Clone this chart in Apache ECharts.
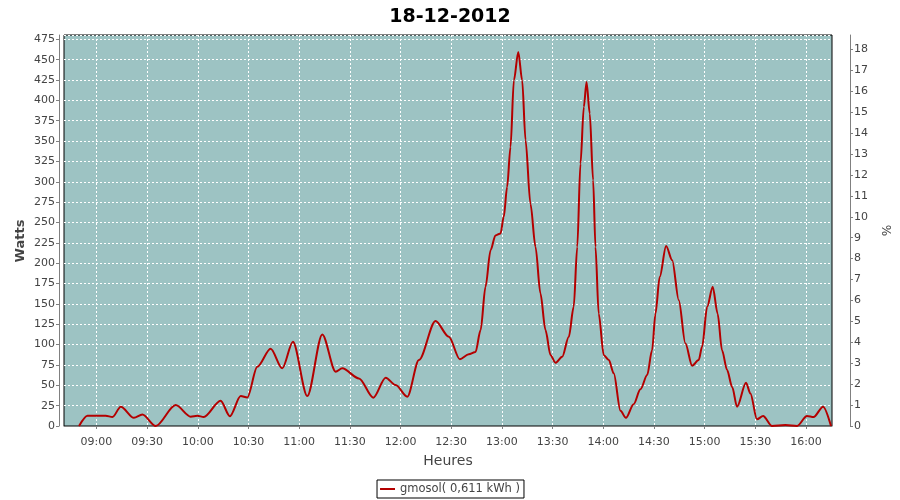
<!DOCTYPE html>
<html>
<head>
<meta charset="utf-8">
<script src="https://cdn.jsdelivr.net/npm/echarts@6/dist/echarts.min.js"></script>
<style>html,body{margin:0;padding:0;background:#fff;}#c{width:900px;height:500px;}</style>
</head>
<body>
<div id="c"></div>
<script>
// time of day in minutes since midnight
const minutes = [529.7,534.7,545.5,549.5,554.4,562.2,567.2,575.1,586.9,595.8,599.8,603.5,613.5,619,625.4,629.3,635.2,643.1,650,656.3,664.8,673.7,681.6,685.5,695.4,703.9,711.2,717.1,724,730.9,740.7,748.6,755.1,760.4,764.4,767.4,770.3,773.3,776.2,779.2,781.1,783.1,785.1,787.1,789.7,792,794,796.9,799.9,802.8,805.8,808.8,811.7,815.7,819.6,822.5,824.6,826.5,828.5,830.1,832,834,835.4,837.3,840.3,843.3,846.2,850.2,853.4,858,862,866,868.9,870.9,873.4,877.2,880.8,884.7,888.6,892.6,896.5,898.5,901.5,904.8,907.7,910.3,913.3,916.3,919.2,924.5,927.1,931,934.6,939.9,947.8,954.7,960.6,964.5,970.1,974.8];
const watts = [0,12.6,12.6,11,23.7,10,14,0,25.8,11.5,12.6,11,31,12,36.8,35,72.8,95,70.8,103.5,36.8,112.5,66.7,70.8,58.5,34.8,59.3,50.3,36,81,129,109.6,82,88,91,117.8,171,216,234,236.5,257,293.7,342.8,424.6,459.4,424.6,351,273,220,163,117.8,87,77.7,85,109.6,146.4,220,322,392,422.6,383.8,302,220,138,87,81,64.7,18.6,10,26.8,45,62.6,93,138,183,221,203.7,154.6,101.5,74,81,97.3,146.4,171,138,93,68.7,48,23.7,53,40,8.2,12.3,0,1.2,0,12.3,11,23.7,0];
const tickMinutes = [540,570,600,630,660,690,720,750,780,810,840,870,900,930,960];
const seriesName = 'gmosol( 0,611 kWh )';
const titleText = '18-12-2012';

const xMin = 520.8, xMax = 975.4;
const wattsMax = 480.3;
const pctMax = 18.69;

function fmt(m){
  const h = Math.floor(m/60), mm = Math.round(m - h*60);
  return (h<10?'0':'')+h+':'+(mm<10?'0':'')+mm;
}
const data = minutes.map((m,i)=>[m, watts[i]]);
const labelColor = '#444444';
const axisLineColor = '#808080';
const font = 'DejaVu Sans';

const chart = echarts.init(document.getElementById('c'), null, {renderer:'canvas'});
chart.setOption({
  animation:false,
  title:{text:titleText,left:'center',top:3,textStyle:{fontFamily:font,fontSize:19,fontWeight:'bold',color:'#000'}},
  grid:{left:64,right:68,top:35,bottom:74,show:true,backgroundColor:'#9dc3c3',borderColor:'#000',borderWidth:1},
  legend:{bottom:2,left:'center',borderColor:'#000',borderWidth:1,padding:[3,4,3,3],
    itemWidth:15,itemHeight:2,icon:'rect',
    textStyle:{fontFamily:font,fontSize:11.5,color:labelColor},data:[seriesName]},
  graphic:[{type:'text',x:21,y:241,rotation:Math.PI/2,
    style:{text:'Watts',fontFamily:font,fontSize:13,fontWeight:'bold',fill:labelColor,align:'center',verticalAlign:'middle'}}],
  xAxis:{type:'value',min:xMin,max:xMax,offset:4,
    name:'Heures',nameLocation:'middle',nameGap:24,nameTextStyle:{fontFamily:font,fontSize:14,color:labelColor},
    axisLine:{show:true,lineStyle:{color:axisLineColor}},
    axisTick:{show:true,length:3,customValues:tickMinutes,lineStyle:{color:axisLineColor}},
    axisLabel:{customValues:tickMinutes,formatter:v=>fmt(v),fontFamily:font,fontSize:11,color:labelColor,margin:7},
    splitLine:{show:true,lineStyle:{color:'#fff',type:[2,2],width:1}}
  },
  yAxis:[
    {type:'value',min:0,max:wattsMax,interval:25,offset:5,
     axisLine:{show:true,lineStyle:{color:axisLineColor}},
     axisTick:{show:true,length:3,lineStyle:{color:axisLineColor}},
     axisLabel:{fontFamily:font,fontSize:11,color:labelColor,margin:4,showMaxLabel:false},
     splitLine:{show:true,lineStyle:{color:'#fff',type:[2,2],width:1}}},
    {type:'value',min:0,max:pctMax,interval:1,offset:18,position:'right',
     name:'%',nameLocation:'middle',nameGap:24,nameRotate:-90,nameTextStyle:{fontFamily:font,fontSize:12,color:labelColor},
     axisLine:{show:true,lineStyle:{color:axisLineColor}},
     axisTick:{show:true,length:3,lineStyle:{color:axisLineColor}},
     axisLabel:{fontFamily:font,fontSize:11,color:labelColor,margin:4,showMaxLabel:false},
     splitLine:{show:false}}
  ],
  series:[{name:seriesName,type:'line',data:data,showSymbol:false,symbol:'none',smooth:0.3,smoothMonotone:'x',
    lineStyle:{color:'#b40000',width:2},itemStyle:{color:'#b40000'},yAxisIndex:0}]
});
</script>
</body>
</html>
